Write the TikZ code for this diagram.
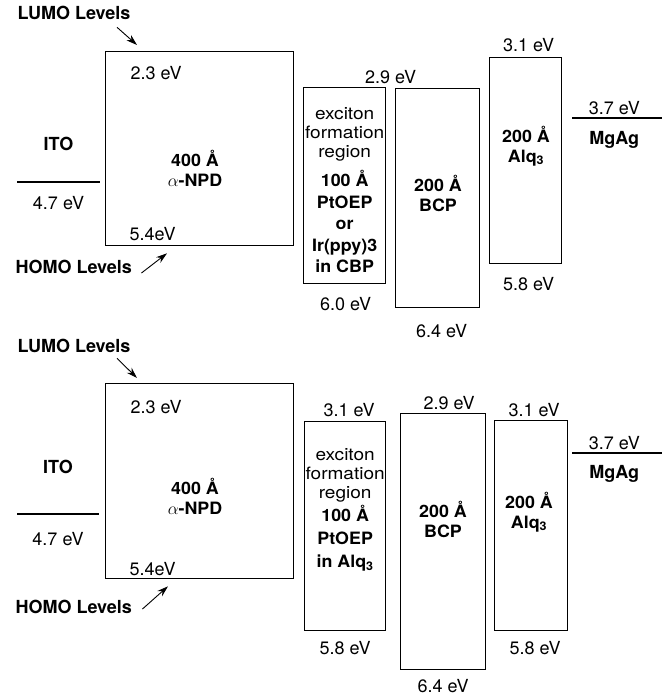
\documentclass[tikz,border=0pt]{standalone}
\usepackage{fontspec}
\setmainfont{TeX Gyre Heros}
\newfontfamily\widefont[FakeStretch=1.05]{TeX Gyre Heros}
\newfontfamily\notefont[FakeStretch=1.12]{TeX Gyre Heros}
\usetikzlibrary{arrows.meta, positioning, calc}

\begin{document}
\begin{tikzpicture}[
    x=1pt, y=-1pt,
    font=\fontsize{18}{21}\selectfont,
    >=Stealth,
    % layer boxes
    layer/.style={
        rectangle,
        draw,
        line width=1.3pt,
        anchor=north west,
        inner sep=0pt
    },
    layertext/.style={
        align=center,
        font=\widefont\fontsize{17}{20}\selectfont\bfseries
    },
    note/.style={
        align=center,
        font=\notefont\fontsize{17}{19}\selectfont
    },
    levelname/.style={font=\fontsize{18}{21}\selectfont\bfseries},
    levelline/.style={line width=1.1pt},
    levelarrow/.style={-{Stealth[length=11pt, width=7pt]}, line width=0.9pt}
]
\useasboundingbox (0,0) rectangle (662,700);

    % --- TOP: PtOEP or Ir(ppy)3 in CBP ---

    % Layers
    \node[layer, minimum width=188pt, minimum height=194pt] (npdA) at (105,51) {};
    \node[layer, minimum width=82pt, minimum height=196pt] (excA) at (303,87) {};
    \node[layer, minimum width=84pt, minimum height=219pt] (bcpA) at (395,88) {};
    \node[layer, minimum width=72pt, minimum height=206pt] (alqA) at (489,57) {};

    % Layer texts
    \node[layertext] (npdA-txt) at (195,168) {400 Å\\$\alpha$-NPD};
    \node[note, anchor=north, yshift=-17pt] (excA-note) at (excA.north) {exciton\\formation\\region};
    \node[layertext, below=2pt of excA-note, font=\widefont\fontsize{17}{21.5}\selectfont\bfseries] (excA-txt) {100 Å\\PtOEP\\or\\Ir(ppy)3\\in CBP};
    \node[layertext] (bcpA-txt) at (438,193) {200 Å\\BCP};
    \node[layertext] (alqA-txt) at (526,146) {200 Å\\Alq\textsubscript{3}};

    % Energies
    \node[anchor=west] (npdA-lumo) at ([shift={(22,22)}]npdA.north west) {2.3 eV};
    \node[anchor=west] (npdA-homo) at ([shift={(21,-12)}]npdA.south west) {5.4eV};
    \node (excA-lumo) at ($(excA.north east)!0.5!(bcpA.north west)$) [above=0pt] {2.9 eV};
    \node[below=10pt of excA, xshift=1pt] (excA-homo) {6.0 eV};
    \node[below=13pt of bcpA, xshift=4pt] (bcpA-homo) {6.4 eV};
    \node[above=2pt of alqA, xshift=3pt] (alqA-lumo) {3.1 eV};
    \node[below=10pt of alqA, xshift=3pt] (alqA-homo) {5.8 eV};

    % Electrodes
    \coordinate (itoA-l) at (17,182);
    \coordinate (itoA-r) at (100,182);
    \draw[levelline] (itoA-l) -- node[above=27pt, levelname] (itoA) {ITO} node[below=10pt] (itoA-ev) {4.7 eV} (itoA-r);
    \coordinate (mgA-l) at (572,118);
    \coordinate (mgA-r) at (662,118);
    \draw[levelline] (mgA-l) -- node[pos=0.47, above=-1pt] (mgA-ev) {3.7 eV} node[pos=0.47, below=9pt, levelname] (mgA) {MgAg} (mgA-r);

    % Level labels
    \node[levelname, anchor=west] (lumoA) at (14,13) {LUMO Levels};
    \node[levelname, anchor=west] (homoA) at (12,267) {HOMO Levels};
    \draw[levelarrow] ([shift={(-17,4)}]lumoA.south east) -- ([shift={(32,-6)}]npdA.north west);
    \draw[levelarrow] ([shift={(6,6)}]homoA.east) -- ([shift={(62,7)}]npdA.south west);

    % --- BOTTOM: PtOEP in Alq3 ---

    % Layers
    \node[layer, minimum width=188pt, minimum height=195pt] (npdB) at (105,383) {};
    \node[layer, minimum width=81pt, minimum height=209pt] (excB) at (304,421) {};
    \node[layer, minimum width=85pt, minimum height=256pt] (bcpB) at (400,413) {};
    \node[layer, minimum width=73pt, minimum height=210pt] (alqB) at (494,420) {};

    % Layer texts
    \node[layertext] (npdB-txt) at (195,496) {400 Å\\$\alpha$-NPD};
    \node[note, anchor=north, yshift=-24pt] (excB-note) at (excB.north) {exciton\\formation\\region};
    \node[layertext, below=-4pt of excB-note, font=\widefont\fontsize{17}{23}\selectfont\bfseries] (excB-txt) {100 Å\\PtOEP\\in Alq\textsubscript{3}};
    \node[layertext] (bcpB-txt) at (443,519) {200 Å\\BCP};
    \node[layertext] (alqB-txt) at (529,512) {200 Å\\Alq\textsubscript{3}};

    % Energies
    \node[anchor=west] (npdB-lumo) at ([shift={(22,24)}]npdB.north west) {2.3 eV};
    \node[anchor=west] (npdB-homo) at ([shift={(21,-10)}]npdB.south west) {5.4eV};
    \node[above=1pt of excB, xshift=4pt] (excB-lumo) {3.1 eV};
    \node[below=7pt of excB] (excB-homo) {5.8 eV};
    \node[above=0pt of bcpB, xshift=6pt] (bcpB-lumo) {2.9 eV};
    \node[below=6pt of bcpB] (bcpB-homo) {6.4 eV};
    \node[above=0pt of alqB, xshift=3pt] (alqB-lumo) {3.1 eV};
    \node[below=7pt of alqB, xshift=4pt] (alqB-homo) {5.8 eV};

    % Electrodes
    \coordinate (itoB-l) at (17,514);
    \coordinate (itoB-r) at (99,514);
    \draw[levelline] (itoB-l) -- node[above=36pt, levelname] (itoB) {ITO} node[below=14pt] (itoB-ev) {4.7 eV} (itoB-r);
    \coordinate (mgB-l) at (572,453);
    \coordinate (mgB-r) at (662,453);
    \draw[levelline] (mgB-l) -- node[pos=0.47, above=-1pt] (mgB-ev) {3.7 eV} node[pos=0.47, below=8pt, levelname] (mgB) {MgAg} (mgB-r);

    % Level labels
    \node[levelname, anchor=west] (lumoB) at (14,346) {LUMO Levels};
    \node[levelname, anchor=west] (homoB) at (12,607) {HOMO Levels};
    \draw[levelarrow] ([shift={(-17,2)}]lumoB.south east) -- ([shift={(32,-5)}]npdB.north west);
    \draw[levelarrow] ([shift={(7,2)}]homoB.east) -- ([shift={(63,7)}]npdB.south west);

\end{tikzpicture}
\end{document}
